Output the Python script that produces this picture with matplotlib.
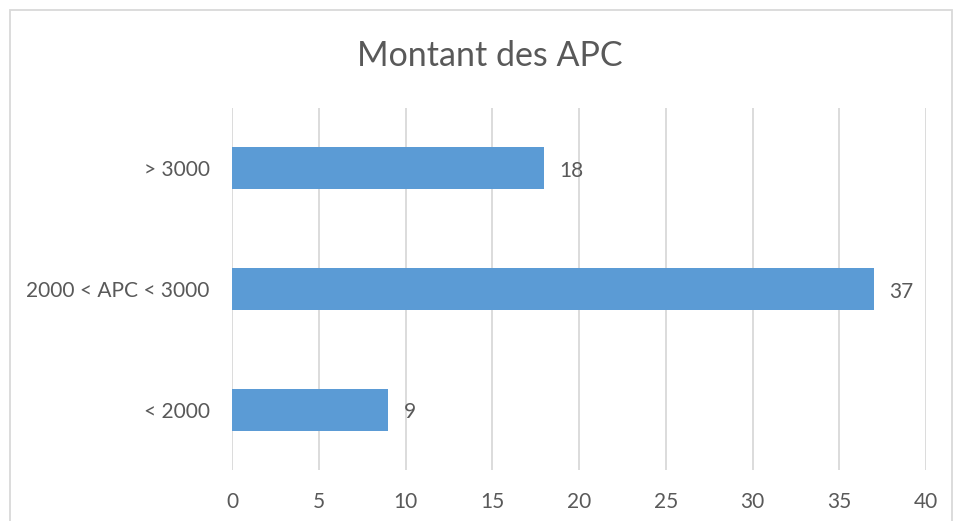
import matplotlib.pyplot as plt
from matplotlib.patches import Rectangle

# data
categories = ["< 2000", "2000 < APC < 3000", "> 3000"]
values = [9, 37, 18]
x_ticks = [0, 5, 10, 15, 20, 25, 30, 35, 40]

text_color = "#595959"
grid_color = "#D9D9D9"
bar_color = "#5B9BD5"

plt.rcParams['font.family'] = ['Lato', 'DejaVu Sans']

fig = plt.figure(figsize=(9.55, 5.21), dpi=100)
ax = fig.add_axes([232 / 955, 1 - 470 / 521, (926 - 232) / 955, (470 - 108) / 521])

ypos = list(range(len(categories)))
bars = ax.barh(ypos, values, height=0.35, color=bar_color, zorder=3)

for y, v in zip(ypos, values):
    ax.annotate(str(v), (v, y), xytext=(11, -2), textcoords="offset points",
                va="center", ha="left", fontsize=15, color=text_color)

ax.set_xlim(0, 40)
ax.set_ylim(-0.5, 2.5)
ax.set_xticks(x_ticks)
ax.set_yticks(ypos)
ax.set_yticklabels(categories)
ax.tick_params(length=0, labelsize=15, labelcolor=text_color)
ax.tick_params(axis="x", pad=16)
ax.tick_params(axis="y", pad=16)
ax.grid(axis="x", color=grid_color, linewidth=1.3, zorder=0)
for s in ax.spines.values():
    s.set_visible(False)

fig.text(490 / 955, 1 - 56 / 521, "Montant des APC", ha="center", va="center",
         fontsize=24.5, color=text_color)

# outer chart border
fig.patches.append(Rectangle((10 / 955, -0.05), (952 - 10) / 955, 1 - 10 / 521 + 0.05,
                             transform=fig.transFigure, fill=False,
                             edgecolor="#D9D9D9", linewidth=1.3))

fig.savefig("out.png", dpi=100)
